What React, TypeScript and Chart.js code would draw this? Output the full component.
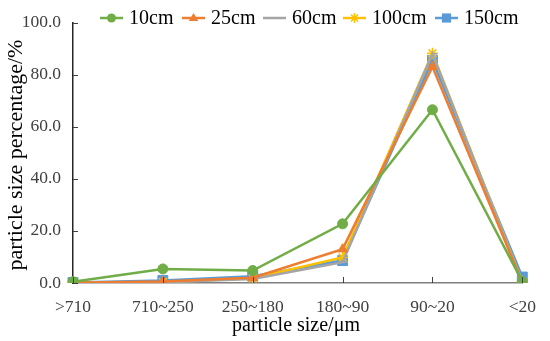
import React, { useEffect, useRef } from "react";
import { Chart, registerables } from "chart.js";

Chart.register(...registerables);

const categories = [">710", "710~250", "250~180", "180~90", "90~20", "<20"];
const s10 = [0.5, 5.4, 4.8, 22.7, 66.5, 0.5];
const s25 = [0.1, 0.6, 2.0, 13.0, 83.0, 0.2];
const s60 = [0.1, 0.3, 1.5, 8.0, 88.0, 0.2];
const s100 = [0.1, 0.3, 1.8, 9.8, 88.2, 0.4];
const s150 = [0.2, 1.0, 2.6, 8.6, 85.5, 2.3];
const seriesNames = ["10cm", "25cm", "60cm", "100cm", "150cm"];
const yTicks = [0, 20, 40, 60, 80, 100];
const xTitle = "particle size/μm";
const yTitle = "particle size percentage/%";

const colors = ["#70AD47", "#ED7D31", "#A5A5A5", "#FFC000", "#5B9BD5"];
const styles = ["circle", "triangle", "dash", "star", "rect"];
const radii = [5, 5.5, 5, 5.5, 7];
const FONT = "'Liberation Serif', 'Times New Roman', serif";

function marker(ctx: CanvasRenderingContext2D, style: string, cx: number, cy: number, r: number, color: string) {
  ctx.save();
  ctx.fillStyle = color;
  ctx.strokeStyle = color;
  ctx.lineWidth = 1.5;
  ctx.beginPath();
  if (style === "circle") {
    ctx.arc(cx, cy, r, 0, Math.PI * 2);
    ctx.fill();
  } else if (style === "triangle") {
    ctx.moveTo(cx, cy - r);
    ctx.lineTo(cx + r * 0.95, cy + r * 0.6);
    ctx.lineTo(cx - r * 0.95, cy + r * 0.6);
    ctx.closePath();
    ctx.fill();
  } else if (style === "rect") {
    const h = r * Math.SQRT1_2;
    ctx.fillRect(cx - h, cy - h, 2 * h, 2 * h);
  } else if (style === "star") {
    for (let k = 0; k < 4; k++) {
      const a = (k * Math.PI) / 4;
      ctx.moveTo(cx - r * Math.cos(a), cy - r * Math.sin(a));
      ctx.lineTo(cx + r * Math.cos(a), cy + r * Math.sin(a));
    }
    ctx.stroke();
  } else {
    ctx.moveTo(cx - r, cy);
    ctx.lineTo(cx + r, cy);
    ctx.stroke();
  }
  ctx.restore();
}

const extras = {
  id: "extras",
  afterDraw(chart: any) {
    const ctx = chart.ctx;
    const x = chart.scales.x;
    const y = chart.scales.y;
    ctx.save();
    // inner tick marks
    ctx.strokeStyle = "#404040";
    ctx.lineWidth = 1;
    x.ticks.forEach((_: any, i: number) => {
      const px = Math.round(x.getPixelForTick(i)) + 0.5;
      ctx.beginPath();
      ctx.moveTo(px, y.bottom);
      ctx.lineTo(px, y.bottom - 6);
      ctx.stroke();
    });
    y.ticks.forEach((_: any, i: number) => {
      const py = Math.round(y.getPixelForTick(i)) + 0.5;
      ctx.beginPath();
      ctx.moveTo(x.left, py);
      ctx.lineTo(x.left + 5, py);
      ctx.stroke();
    });
    // axis titles
    ctx.fillStyle = "#000";
    ctx.textAlign = "center";
    ctx.textBaseline = "middle";
    ctx.font = `20px ${FONT}`;
    ctx.fillText(xTitle, 296, 326);
    ctx.save();
    ctx.translate(16, 155);
    ctx.rotate(-Math.PI / 2);
    ctx.font = `22px ${FONT}`;
    ctx.fillText(yTitle, 0, 0);
    ctx.restore();
    // legend
    const lx = [100, 182, 263, 343, 435];
    const ly = 18;
    ctx.font = `20px ${FONT}`;
    ctx.textBaseline = "middle";
    ctx.textAlign = "left";
    chart.data.datasets.forEach((ds: any, i: number) => {
      ctx.strokeStyle = ds.borderColor;
      ctx.lineWidth = 2.5;
      ctx.beginPath();
      ctx.moveTo(lx[i], ly);
      ctx.lineTo(lx[i] + 23, ly);
      ctx.stroke();
      marker(ctx, styles[i], lx[i] + 11.5, ly, radii[i] - 0.5, colors[i]);
      ctx.fillStyle = "#000";
      ctx.fillText(ds.label, lx[i] + 29, ly + 1);
    });
    ctx.restore();
  },
};

export default function App() {
  const ref = useRef<HTMLCanvasElement>(null);
  useEffect(() => {
    if (!ref.current) return;
    const chart = new Chart(ref.current, {
      type: "line",
      data: {
        labels: categories,
        datasets: [s10, s25, s60, s100, s150].map((d, i) => ({
          label: seriesNames[i],
          data: d,
          borderColor: colors[i],
          backgroundColor: colors[i],
          borderWidth: 2.5,
          pointStyle: styles[i] as any,
          pointRadius: radii[i],
          pointBorderWidth: i === 3 || i === 2 ? 1.5 : 1,
          pointHoverRadius: radii[i],
          tension: 0,
        })),
      },
      options: {
        responsive: false,
        animation: false,
        layout: { padding: { top: 8, right: 19, left: 0, bottom: 0 } },
        plugins: { legend: { display: false }, tooltip: { enabled: false } },
        scales: {
          x: {
            offset: false,
            grid: { display: false, drawTicks: false },
            border: { display: true, color: "#7f7f7f", width: 1.5 },
            ticks: { color: "#404040", font: { family: FONT, size: 17.5 }, padding: 14, autoSkip: false, maxRotation: 0 },
            title: { display: false },
            afterFit: (s: any) => { s.height = 58; },
          },
          y: {
            min: 0,
            max: 100,
            grid: { display: false, drawTicks: false },
            border: { display: true, color: "#262626", width: 1.5 },
            afterBuildTicks: (s: any) => { s.ticks = yTicks.map((v) => ({ value: v })); },
            ticks: { color: "#404040", font: { family: FONT, size: 17.5 }, padding: 12, callback: (v: any) => Number(v).toFixed(1) },
            title: { display: false },
            afterFit: (s: any) => { s.width = 73; },
          },
        },
      },
      plugins: [extras],
    });
    return () => chart.destroy();
  }, []);
  return (
    <div style={{ position: "absolute", left: 0, top: 0, width: 550, height: 341, background: "#fff" }}>
      <canvas ref={ref} width={550} height={341} />
    </div>
  );
}
